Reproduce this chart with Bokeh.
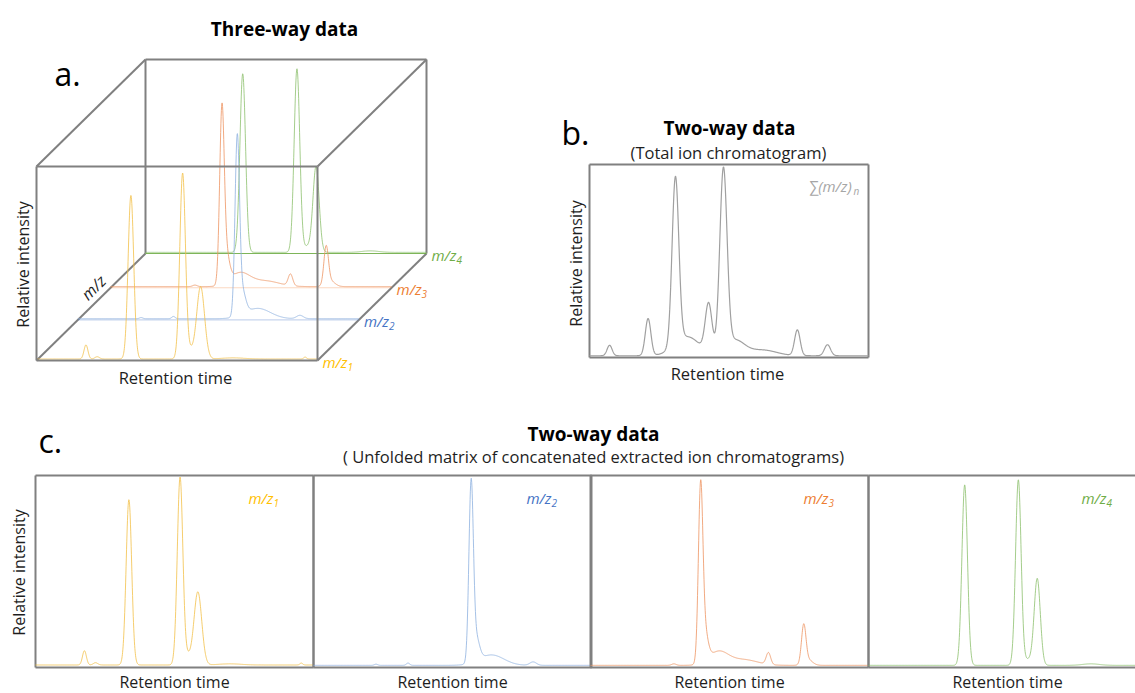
import numpy as np
from bokeh.plotting import figure
from bokeh.models import Range1d
from bokeh.embed import file_html
from bokeh.resources import INLINE
from bokeh.core.properties import value

# ---------------- data ----------------
# Chromatograms are given as peak tables:
# retention time (fraction of run), relative height, peak width (sigma, fraction of run)
RT = np.linspace(0.0, 1.0, 1201)

MZ_NAMES = ["1", "2", "3", "4"]

MZ1_RT     = [0.176, 0.216, 0.336, 0.520, 0.546, 0.584, 0.700, 0.956]
MZ1_HEIGHT = [0.075, 0.012, 0.870, 0.985, 0.045, 0.385, 0.006, 0.010]
MZ1_WIDTH  = [0.007, 0.008, 0.010, 0.010, 0.012, 0.014, 0.040, 0.005]
MZ1_BASE = 0.008

MZ2_RT     = [0.225, 0.340, 0.567, 0.585, 0.640, 0.790]
MZ2_HEIGHT = [0.006, 0.012, 0.930, 0.120, 0.055, 0.018]
MZ2_WIDTH  = [0.006, 0.006, 0.008, 0.012, 0.045, 0.012]
MZ2_BASE = 0.006

MZ3_RT     = [0.300, 0.396, 0.410, 0.460, 0.550, 0.640, 0.767, 0.782]
MZ3_HEIGHT = [0.008, 0.880, 0.160, 0.070, 0.030, 0.062, 0.200, 0.030]
MZ3_WIDTH  = [0.008, 0.008, 0.012, 0.035, 0.050, 0.008, 0.008, 0.016]
MZ3_BASE = 0.006

MZ4_RT     = [0.346, 0.539, 0.575, 0.607, 0.800]
MZ4_HEIGHT = [0.950, 0.975, 0.030, 0.455, 0.008]
MZ4_WIDTH  = [0.010, 0.010, 0.015, 0.011, 0.030]
MZ4_BASE = 0.006

TIC_RT     = [0.072, 0.210, 0.308, 0.350, 0.427, 0.480, 0.520, 0.620, 0.745, 0.853]
TIC_HEIGHT = [0.055, 0.195, 0.880, 0.100, 0.255, 0.950, 0.080, 0.030, 0.135, 0.058]
TIC_WIDTH  = [0.009, 0.010, 0.012, 0.045, 0.012, 0.013, 0.035, 0.050, 0.010, 0.011]
TIC_BASE = 0.004

MZ_TABLES = [
    (MZ1_RT, MZ1_HEIGHT, MZ1_WIDTH, MZ1_BASE),
    (MZ2_RT, MZ2_HEIGHT, MZ2_WIDTH, MZ2_BASE),
    (MZ3_RT, MZ3_HEIGHT, MZ3_WIDTH, MZ3_BASE),
    (MZ4_RT, MZ4_HEIGHT, MZ4_WIDTH, MZ4_BASE),
]

TEXT_TITLE_A = "Three-way data"
TEXT_TITLE_B = "Two-way data"
TEXT_SUB_B = "(Total ion chromatogram)"
TEXT_TITLE_C = "Two-way data"
TEXT_SUB_C = "( Unfolded matrix of concatenated extracted ion chromatograms)"
TEXT_Y = "Relative intensity"
TEXT_X = "Retention time"

# ---------------- styles ----------------
LABEL_COLORS = ["#FFC000", "#4472C4", "#ED7D31", "#70AD47"]
TRACE_COLORS = ["#F2C04A", "#8FB2E0", "#EE9563", "#8DC06E"]
TIC_COLOR = "#A0A0A0"
BOX = "#808080"
INK = "#1E1E1E"
FONT = "Open Sans"


def chromatogram(table):
    rt, hgt, wid, base = table
    y = np.full_like(RT, base)
    for c, h, w in zip(rt, hgt, wid):
        y = y + h * np.exp(-0.5 * ((RT - c) / w) ** 2)
    return y


W, H = 1135, 693
p = figure(width=W, height=H, x_range=Range1d(0, W), y_range=Range1d(H, 0),
           output_backend="svg", toolbar_location=None, min_border=0)
p.axis.visible = False
p.grid.visible = False
p.outline_line_color = None
p.background_fill_color = "white"
p.border_fill_color = "white"


def txt(x, y, s, size, color=INK, align="left", base="middle", style="normal", angle=0.0):
    return p.text(x=[x], y=[y], text=[s], text_font=value(FONT), text_font_size=f"{size}px",
                  text_color=color, text_align=align, text_baseline=base,
                  text_font_style=style, angle=angle)


def mz_label(x, y, n, color, size=15):
    txt(x, y, "m/z", size, color=color, style="italic")
    txt(x + 25, y + 5, n, 10, color=color, style="italic")


def seg(x0, y0, x1, y1, color=BOX, width=2.0, alpha=1.0):
    p.line([x0, x1], [y0, y1], line_color=color, line_width=width, line_alpha=alpha)


# ---------------- panel a : three-way cube ----------------
A_X0, A_Y0 = 36, 360          # front bottom-left corner
A_W, A_H = 281, 194           # front face size
A_DX, A_DY = 109, -107        # depth offset to back face
A_SCALE = 188                 # pixels for intensity 1.0
A_DEPTH = [0.0, 0.38, 0.68, 1.0]

# back face edges
bx, by = A_X0 + A_DX, A_Y0 + A_DY
seg(bx, by - A_H, bx + A_W, by - A_H)
seg(bx, by - A_H, bx, by)
seg(bx + A_W, by - A_H, bx + A_W, by)
# depth edges
for (cx, cy) in [(A_X0, A_Y0), (A_X0 + A_W, A_Y0), (A_X0, A_Y0 - A_H), (A_X0 + A_W, A_Y0 - A_H)]:
    seg(cx, cy, cx + A_DX, cy + A_DY)

for i in [3, 2, 1, 0]:
    ox = A_X0 + A_DEPTH[i] * A_DX
    oy = A_Y0 + A_DEPTH[i] * A_DY
    if i > 0:
        seg(ox, oy, ox + A_W, oy, color=LABEL_COLORS[i], width=1.2, alpha=0.3 if i < 3 else 0.9)
    y = chromatogram(MZ_TABLES[i])
    p.line(ox + RT * A_W, oy - y * A_SCALE, line_color=TRACE_COLORS[i], line_width=1.0, line_alpha=0.8)
    mz_label(ox + A_W + 5, oy + 1, MZ_NAMES[i], LABEL_COLORS[i])

# front face
seg(A_X0, A_Y0 - A_H, A_X0 + A_W, A_Y0 - A_H)
seg(A_X0, A_Y0, A_X0 + A_W, A_Y0)
seg(A_X0, A_Y0 - A_H, A_X0, A_Y0)
seg(A_X0 + A_W, A_Y0 - A_H, A_X0 + A_W, A_Y0)

txt(284, 28, TEXT_TITLE_A, 19, color="#000000", align="center", style="bold")
txt(54, 73, "a.", 32, color="#000000", base="alphabetic")
txt(22, 264, TEXT_Y, 16, align="center", angle=np.pi / 2)
txt(175, 377, TEXT_X, 16.5, align="center")
txt(93, 287, "m/z", 16, align="center", style="italic", angle=np.pi / 4)

# ---------------- panel b : TIC ----------------
B_L, B_R, B_T, B_B = 589, 868, 164, 357
seg(B_L, B_T, B_R, B_T); seg(B_L, B_B, B_R, B_B)
seg(B_L, B_T, B_L, B_B); seg(B_R, B_T, B_R, B_B)
tic = chromatogram((TIC_RT, TIC_HEIGHT, TIC_WIDTH, TIC_BASE))
p.line(B_L + RT * (B_R - B_L), B_B - 1 - tic * 190, line_color=TIC_COLOR, line_width=1.2)

txt(561, 132, "b.", 32, color="#000000", base="alphabetic")
txt(729, 127, TEXT_TITLE_B, 19, color="#000000", align="center", style="bold")
txt(728, 152, TEXT_SUB_B, 16.5, align="center")
txt(808, 185, "\u2211(m/z)", 15, color="#A6A6A6", style="italic")
txt(853, 190, "n", 10, color="#A6A6A6", style="italic")
txt(575, 263, TEXT_Y, 16, align="center", angle=np.pi / 2)
txt(727, 373, TEXT_X, 16.5, align="center")

# ---------------- panel c : unfolded matrix ----------------
C_LEFTS = [35, 313, 590, 868]
C_W = 278
C_T, C_B = 475, 667
for i, left in enumerate(C_LEFTS):
    right = left + C_W
    seg(left, C_T, right, C_T); seg(left, C_B, right, C_B)
    seg(left, C_T, left, C_B); seg(right, C_T, right, C_B)
    y = chromatogram(MZ_TABLES[i])
    p.line(left + RT * C_W, C_B - 1 - y * 190, line_color=TRACE_COLORS[i], line_width=1.0, line_alpha=0.8)
    mz_label(left + C_W - 65, 497, MZ_NAMES[i], LABEL_COLORS[i])
    txt(left + C_W / 2, 692, TEXT_X, 16, align="center", base="bottom")

txt(38, 440, "c.", 32, color="#000000", base="alphabetic")
txt(593, 433, TEXT_TITLE_C, 19, color="#000000", align="center", style="bold")
txt(593, 456, TEXT_SUB_C, 16.5, align="center")
txt(18, 572, TEXT_Y, 16, align="center", angle=np.pi / 2)

open("out.html", "w").write(file_html(p, INLINE))
